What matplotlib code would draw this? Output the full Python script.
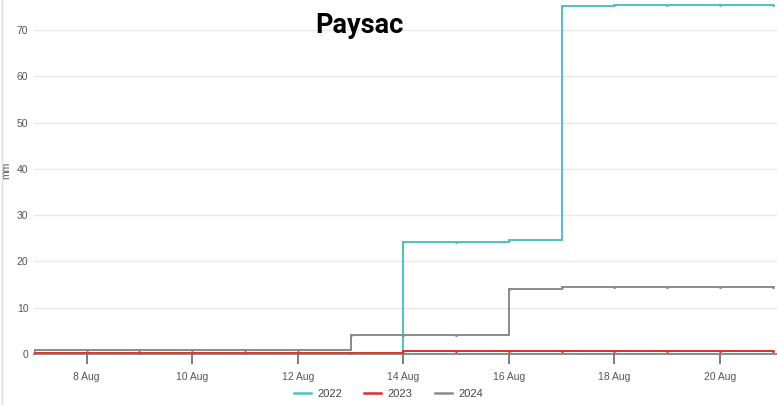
import numpy as np
import pandas as pd
import matplotlib
matplotlib.use('Agg')
import matplotlib.pyplot as plt
import matplotlib.dates as mdates
from matplotlib.lines import Line2D

# ── DATA (cumulative rainfall, mm) ───────────────────────────────────────────
days = ['2024-08-07', '2024-08-08', '2024-08-09', '2024-08-10', '2024-08-11',
        '2024-08-12', '2024-08-13', '2024-08-14', '2024-08-15', '2024-08-16',
        '2024-08-17', '2024-08-18', '2024-08-19', '2024-08-20', '2024-08-21']
rain_2022 = [0, 0, 0, 0, 0, 0, 0, 24.3, 24.3, 24.7, 75.2, 75.4, 75.4, 75.4, 75.4]
rain_2023 = [0.3, 0.3, 0.3, 0.3, 0.3, 0.3, 0.3, 0.6, 0.6, 0.6, 0.6, 0.6, 0.6, 0.6, 0.6]
rain_2024 = [0.9, 0.9, 0.9, 0.9, 0.9, 0.9, 4.0, 4.0, 4.0, 14.1, 14.4, 14.4, 14.4, 14.4, 14.4]
years = ['2022', '2023', '2024']
colors = ['#4cc3c2', '#d9302c', '#8a8a8a']
tick_days = ['2024-08-08', '2024-08-10', '2024-08-12', '2024-08-14',
             '2024-08-16', '2024-08-18', '2024-08-20']

plt.rcParams['font.family'] = ['Liberation Sans', 'DejaVu Sans']

x = pd.to_datetime(days)
fig = plt.figure(figsize=(7.77, 4.05), dpi=100)
ax = fig.add_axes([0.0437, 0.126, 0.9563, 0.874])

handles = []
for yr, vals, c in zip(years, [rain_2022, rain_2023, rain_2024], colors):
    ax.plot(x, vals, drawstyle='steps-post', color=c, lw=1.4,
            marker='o', ms=1.2, solid_joinstyle='miter')
    handles.append(Line2D([], [], color=c, lw=1.8, label=yr))

ax.set_xlim(x[0], x[-1] + pd.Timedelta(hours=2))
ax.set_ylim(0, 76.5)
ax.set_yticks(range(0, 71, 10))
ax.set_xticks(pd.to_datetime(tick_days))
ax.xaxis.set_major_formatter(mdates.DateFormatter('%-d %b'))

ax.grid(axis='y', color='#e8e8e8', lw=1)
ax.set_axisbelow(True)
for s in ['top', 'right', 'left']:
    ax.spines[s].set_visible(False)
ax.spines['bottom'].set_color('#777777')
ax.spines['bottom'].set_linewidth(1.2)
ax.tick_params(axis='y', length=0, labelsize=7.5, labelcolor='#555555', pad=4)
ax.tick_params(axis='x', length=7, width=1.2, color='#666666', labelsize=7.5,
               labelcolor='#555555', pad=6)
ax.set_ylabel('mm', fontsize=7.5, color='#555555', labelpad=1)
ax.yaxis.set_label_coords(-0.031, 0.52)

ax.text(0.438, 0.907, 'Paysac', transform=ax.transAxes, ha='center', va='baseline',
        fontsize=19.5, fontweight='bold', color='black', family='Roboto')

fig.legend(handles=handles, loc='lower center', bbox_to_anchor=(0.5, -0.01), ncol=3,
           frameon=False, fontsize=8, handlelength=1.5, columnspacing=2.0,
           handletextpad=0.6, labelcolor='#444444')

# thin light border at left edge
fig.add_artist(Line2D([0.002, 0.002], [0, 1], color='#dddddd', lw=1,
                      transform=fig.transFigure))

fig.savefig('out.png', dpi=100)
